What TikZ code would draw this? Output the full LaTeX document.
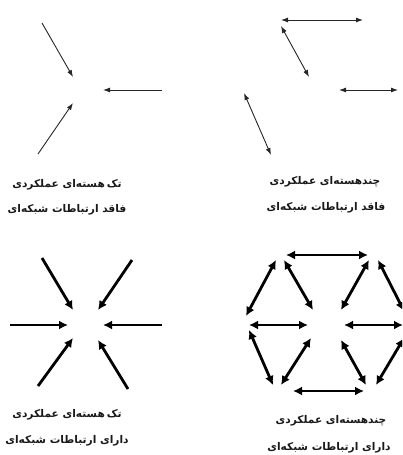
\documentclass[tikz,border=0pt]{standalone}
\usepackage{fontspec}
\TeXXeTstate=1
\newfontfamily\arabicfont[Script=Arabic]{DejaVu Sans}
\usetikzlibrary{arrows.meta}
\begin{document}
\begin{tikzpicture}[x=1pt,y=-1pt,
  thinarr/.style={draw=black!85, line width=0.9pt, -{Latex[length=7pt,width=5pt]}},
  thindbl/.style={draw=black!85, line width=0.9pt, {Latex[length=7pt,width=5pt]}-{Latex[length=7pt,width=5pt]}},
  thickarr/.style={draw=black, line width=2.8pt, -{Latex[length=9pt,width=9pt]}},
  thickdbl/.style={draw=black, line width=2.8pt, {Latex[length=9pt,width=9pt]}-{Latex[length=9pt,width=9pt]}},
  lbl/.style={font=\arabicfont\bfseries\fontsize{10.6}{12}\selectfont, inner sep=0pt, text=black!90}]
\useasboundingbox (0,0) rectangle (402,455);
\clip (0,0) rectangle (402,455);
% panel 1
\coordinate (a1) at (42,23);  \coordinate (a1e) at (73,77);
\coordinate (a2) at (162,90); \coordinate (a2e) at (103,90);
\coordinate (a3) at (38,154); \coordinate (a3e) at (73,103);
\draw[thinarr] (a1) -- (a1e);
\draw[thinarr] (a2) -- (a2e);
\draw[thinarr] (a3) -- (a3e);
\node[lbl] (l1a) at (67,185) {\beginR تک\kern2pt هسته‌ای عملکردی\endR};
\node[lbl] (l1b) at (67,210) {\beginR فاقد ارتباطات شبکه‌ای\endR};
% panel 2
\coordinate (b1) at (281,20);  \coordinate (b1e) at (363,20);
\coordinate (b2) at (281,26);  \coordinate (b2e) at (309,77);
\coordinate (b3) at (339,90);  \coordinate (b3e) at (398,90);
\coordinate (b4) at (244,93);  \coordinate (b4e) at (271,155);
\draw[thindbl] (b1) -- (b1e);
\draw[thindbl] (b2) -- (b2e);
\draw[thindbl] (b3) -- (b3e);
\draw[thindbl] (b4) -- (b4e);
\node[lbl] (l2a) at (325,182) {\beginR چندهسته‌ای عملکردی\endR};
\node[lbl] (l2b) at (326,208) {\beginR فاقد ارتباطات شبکه‌ای\endR};
% panel 3
\coordinate (c1) at (42,258);  \coordinate (c1e) at (73,310);
\coordinate (c2) at (132,260); \coordinate (c2e) at (98,310);
\coordinate (c3) at (10,325);  \coordinate (c3e) at (68,325);
\coordinate (c4) at (162,325); \coordinate (c4e) at (103,325);
\coordinate (c5) at (38,386);  \coordinate (c5e) at (73,338);
\coordinate (c6) at (128,389); \coordinate (c6e) at (98,340);
\foreach \i in {1,...,6} \draw[thickarr] (c\i) -- (c\i e);
\node[lbl] (l3a) at (67,415) {\beginR تک\kern2pt هسته‌ای عملکردی\endR};
\node[lbl] (l3b) at (67,441) {\beginR دارای ارتباطات شبکه‌ای\endR};
% panel 4
\coordinate (d1) at (286,255);  \coordinate (d1e) at (368,255);
\coordinate (d2) at (276,260);  \coordinate (d2e) at (246,316);
\coordinate (d3) at (284,260);  \coordinate (d3e) at (313,310);
\coordinate (d4) at (249,325);  \coordinate (d4e) at (308,325);
\coordinate (d5) at (341,310);  \coordinate (d5e) at (369,260);
\coordinate (d6) at (378,260);  \coordinate (d6e) at (404,311);
\coordinate (d7) at (344,325);  \coordinate (d7e) at (403,325);
\coordinate (d8) at (249,330);  \coordinate (d8e) at (273,385);
\coordinate (d9) at (281,385);  \coordinate (d9e) at (311,338);
\coordinate (d10) at (341,340); \coordinate (d10e) at (366,385);
\coordinate (d11) at (376,385); \coordinate (d11e) at (404,338);
\coordinate (d12) at (293,391); \coordinate (d12e) at (364,391);
\foreach \i in {1,...,12} \draw[thickdbl] (d\i) -- (d\i e);
\node[lbl] (l4a) at (331,421) {\beginR چندهسته‌ای عملکردی\endR};
\node[lbl] (l4b) at (329,448) {\beginR دارای ارتباطات شبکه‌ای\endR};
\end{tikzpicture}
\end{document}
